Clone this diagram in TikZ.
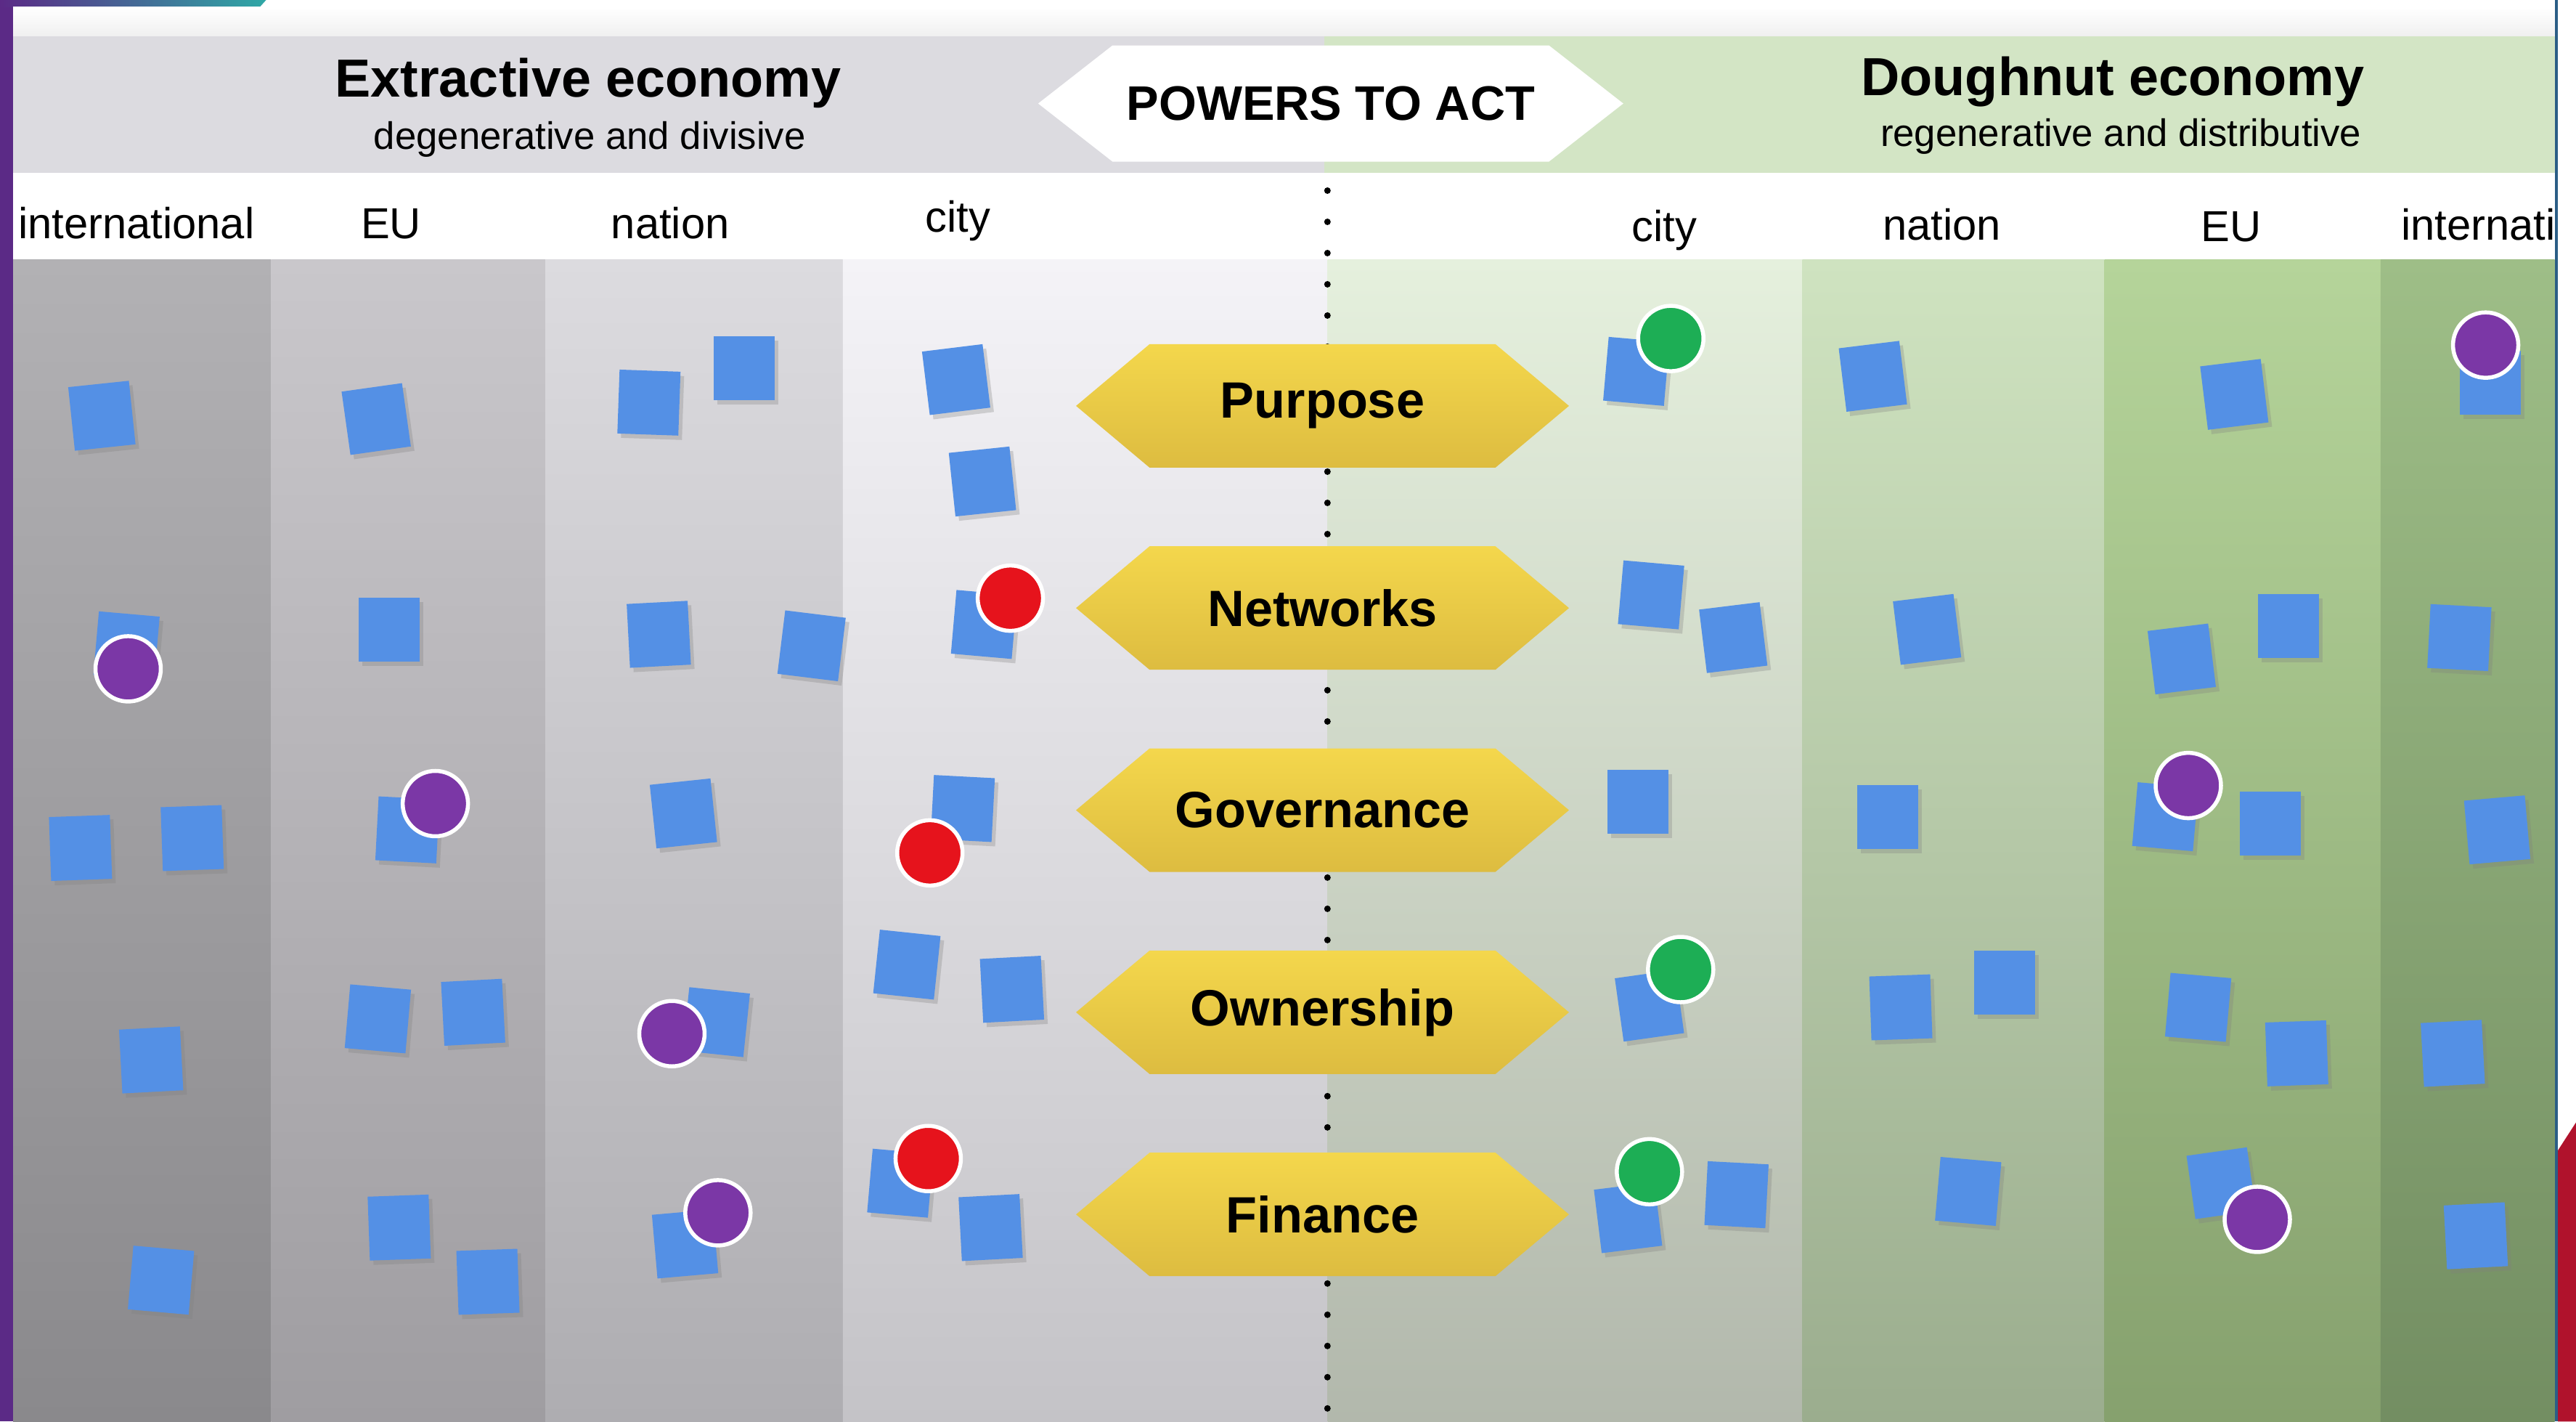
\documentclass[tikz,border=0pt]{standalone}
\usepackage{fontspec}
\setmainfont{Liberation Sans}
\usetikzlibrary{shapes.symbols,shadows}
\definecolor{notecol}{HTML}{5490E5}
\definecolor{hextop}{HTML}{F4D74C}
\definecolor{hexbot}{HTML}{DDBC40}
\definecolor{dotpurple}{HTML}{7B37A6}
\definecolor{dotred}{HTML}{E6131C}
\definecolor{dotgreen}{HTML}{1DAE55}
\definecolor{headgrey}{HTML}{DCDBE0}
\definecolor{headgreen}{HTML}{D3E5C5}
\definecolor{framepurple}{HTML}{5B2A86}
\definecolor{frameteal}{HTML}{2FA8A6}
\definecolor{frameline}{HTML}{2B5E86}
\definecolor{framered}{HTML}{B0122C}
\definecolor{lintlt}{HTML}{B2B1B4}\definecolor{lintlb}{HTML}{8A898C}
\definecolor{leut}{HTML}{C9C7CB}\definecolor{leub}{HTML}{9F9DA1}
\definecolor{lnatt}{HTML}{DCDBDF}\definecolor{lnatb}{HTML}{AEADB1}
\definecolor{lcityt}{HTML}{F4F3F7}\definecolor{lcityb}{HTML}{C4C3C7}
\definecolor{rcityt}{HTML}{E5F0DD}\definecolor{rcityb}{HTML}{B2B8AC}
\definecolor{rnatt}{HTML}{CFE3C0}\definecolor{rnatb}{HTML}{9BAD8E}
\definecolor{reut}{HTML}{B5D49A}\definecolor{reub}{HTML}{86A16E}
\definecolor{rintlt}{HTML}{9EBE87}\definecolor{rintlb}{HTML}{738E62}
\tikzset{
  note/.style={fill=notecol, minimum width=8.4mm, minimum height=8.8mm, inner sep=0pt,
    drop shadow={shadow xshift=0.5mm, shadow yshift=-0.6mm, opacity=0.3}},
  dot/.style={circle, draw=white, line width=0.55mm, minimum size=9mm, inner sep=0pt},
  power/.style={signal, signal to=east and west, signal pointer angle=80,
    top color=hextop, bottom color=hexbot, minimum width=67.9mm, minimum height=17mm,
    inner sep=0pt, font=\bfseries\fontsize{20}{24}\selectfont},
  level/.style={anchor=base, font=\fontsize{17}{20}\selectfont},
  headline/.style={anchor=base, font=\bfseries\fontsize{21}{25}\selectfont},
  subline/.style={anchor=base, font=\fontsize{15}{18}\selectfont},
}
\begin{document}
\begin{tikzpicture}[x=0.2263mm,y=-0.2263mm]
\useasboundingbox (0,0) rectangle (1568,865);
% slide frame
\fill[white] (0,0) rectangle (1568,865);
\fill[framepurple] (0,0) rectangle (8,865);
\shade[left color=framepurple, right color=frameteal] (0,0) -- (162,0) -- (158,4.4) -- (0,4.4) -- cycle;
\fill[frameline] (1555,0) rectangle (1557,865);
\fill[framered] (1557,700) -- (1568,683) -- (1568,865) -- (1557,865) -- cycle;
% header bands
\shade[top color=white, bottom color=gray!12] (8,4.4) rectangle (1555,22);
\fill[headgrey] (8,22) rectangle (806,105);
\fill[headgreen] (806,22) rectangle (1555,105);
\fill[white] (8,105) rectangle (1555,158);
% columns
\shade[top color=lintlt, bottom color=lintlb] (8,158) rectangle (165,865);
\shade[top color=leut, bottom color=leub] (165,158) rectangle (332,865);
\shade[top color=lnatt, bottom color=lnatb] (332,158) rectangle (513,865);
\shade[top color=lcityt, bottom color=lcityb] (513,158) rectangle (808,865);
\shade[top color=rcityt, bottom color=rcityb] (808,158) rectangle (1097,865);
\shade[top color=rnatt, bottom color=rnatb] (1097,158) rectangle (1281,865);
\shade[top color=reut, bottom color=reub] (1281,158) rectangle (1449,865);
\shade[top color=rintlt, bottom color=rintlb] (1449,158) rectangle (1555,865);
\draw[line width=0.9mm, line cap=round, dash pattern=on 0pt off 4.3mm] (808,116) -- (808,865);

\node[headline] (extr) at (358,59) {Extractive economy};
\node[subline] (extrsub) at (359,91) {degenerative and divisive};
\node[headline] (dough) at (1286,58) {Doughnut economy};
\node[subline] (doughsub) at (1291,89) {regenerative and distributive};
\node[signal, signal to=east and west, signal pointer angle=76, fill=white,
  minimum width=80.6mm, minimum height=16mm, inner sep=0pt,
  font=\bfseries\fontsize{19}{23}\selectfont] (powers) at (810,63) {POWERS TO ACT};

\begin{scope}
\clip (8,105) rectangle (1555,865);
\node[level] (lintl) at (83,145) {international};
\node[level] (leu) at (238,145) {EU};
\node[level] (lnat) at (408,145) {nation};
\node[level] (lcity) at (583,141) {city};
\node[level] (rcity) at (1013,147) {city};
\node[level] (rnat) at (1182,146) {nation};
\node[level] (reu) at (1358,147) {EU};
\node[level, anchor=base west] (rintl) at (1456,146) {international};

% sticky notes
\foreach \x/\y/\r [count=\i] in {
  62/253/6, 77/393/-5, 49/516/2, 117/510/2, 92/645/3, 98/779/-5,
  229/255/8, 237/383/0, 248/505/-3, 230/620/-5, 288/616/3, 243/747/2, 297/780/2,
  395/245/-2, 453/224/0, 401/386/3, 494/393/-7, 416/495/6, 436/622/-6, 417/757/5,
  582/231/7, 598/293/6, 599/380/-5, 586/492/-3, 552/587/-6, 616/602/3, 548/720/-5, 603/747/3,
  996/226/-5, 1005/362/-5, 1055/388/7, 997/488/0, 1004/612/8, 991/741/7, 1057/727/-3,
  1140/229/7, 1173/383/7, 1149/497/0, 1157/613/2, 1220/598/0, 1198/725/-5,
  1360/240/7, 1328/401/7, 1393/381/0, 1318/497/-5, 1382/501/0, 1338/613/-5, 1398/641/2, 1352/720/8,
  1516/233/0, 1497/388/-3, 1520/505/5, 1493/641/3, 1507/752/3}
  \node[note, rotate=\r] (note\i) at (\x,\y) {};

% marks
\foreach \x/\y [count=\i] in {78/407, 265/489, 409/629, 437/738, 1332/478, 1374/742, 1513/210}
  \node[dot, fill=dotpurple] (pdot\i) at (\x,\y) {};
\foreach \x/\y [count=\i] in {615/364, 566/519, 565/705}
  \node[dot, fill=dotred] (rdot\i) at (\x,\y) {};
\foreach \x/\y [count=\i] in {1017/206, 1023/590, 1004/713}
  \node[dot, fill=dotgreen] (gdot\i) at (\x,\y) {};
\end{scope}

\node[power] (purpose) at (805,247) {Purpose};
\node[power] (networks) at (805,370) {Networks};
\node[power] (governance) at (805,493) {Governance};
\node[power] (ownership) at (805,616) {Ownership};
\node[power] (finance) at (805,739) {Finance};
\end{tikzpicture}
\end{document}
